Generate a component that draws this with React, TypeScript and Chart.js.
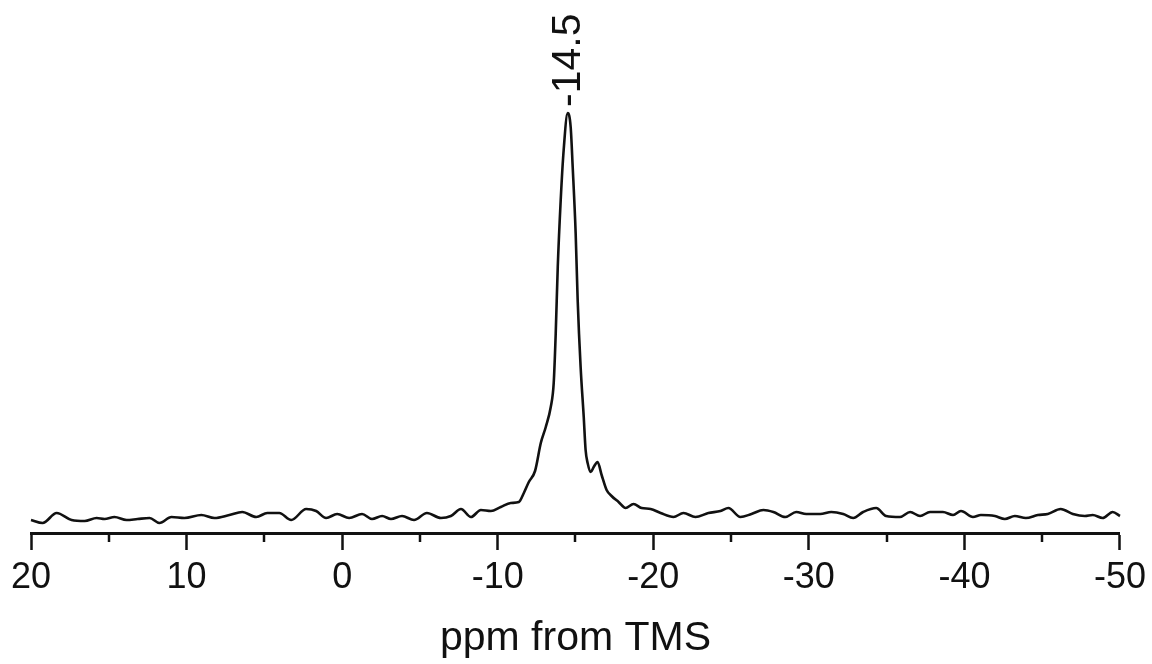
import { useEffect, useRef } from "react";
import { Chart, registerables } from "chart.js";

Chart.register(...registerables);

// Chemical shift (ppm) and signal intensity (arbitrary units)
const PPM = [
  20.0, 19.25, 18.35, 17.39, 16.55, 15.78, 15.27, 14.63, 13.86, 13.15, 12.38, 11.74, 10.97, 10.14, 9.05, 8.21,
  7.25, 6.42, 5.52, 4.81, 4.04, 3.27, 2.31, 1.67, 1.03, 0.32, -0.45, -1.28, -1.92, -2.57, -3.14, -3.85, -4.62,
  -5.45, -6.35, -6.99, -7.64, -8.28, -8.92, -9.56, -10.2, -10.84, -11.36, -11.68, -12.0, -12.4, -12.77, -13.09,
  -13.41, -13.6, -13.73, -13.86, -14.05, -14.24, -14.5, -14.69, -14.82, -15.01, -15.14, -15.33, -15.53, -15.65,
  -15.78, -15.98, -16.17, -16.42, -16.68, -17.0, -17.32, -17.77, -18.22, -18.73, -19.25, -19.83, -20.47, -21.3,
  -21.94, -22.71, -23.54, -24.32, -24.83, -25.6, -26.31, -27.08, -27.72, -28.49, -29.19, -29.83, -30.73, -31.44,
  -32.21, -32.85, -33.49, -34.33, -34.97, -35.86, -36.51, -37.15, -37.79, -38.62, -39.27, -39.78, -40.55, -41.06,
  -41.96, -42.6, -43.24, -43.95, -44.72, -45.36, -46.19, -46.97, -47.74, -48.25, -48.89, -49.53, -50.0,
];
const INTENSITY = [
  13, 10, 20, 13, 12, 15, 14, 16, 13, 14, 15, 10, 16, 15, 18, 15,
  18, 21, 16, 20, 20, 13, 24, 22, 15, 19, 15, 19, 14, 17, 14, 17, 13,
  20, 15, 17, 24, 16, 23, 22, 26, 30, 31, 40, 51, 62, 90, 106,
  126, 150, 200, 266, 333, 383, 420, 406, 366, 300, 233, 166, 116, 83,
  70, 61, 66, 71, 58, 43, 37, 31, 25, 29, 25, 24, 20, 16,
  20, 16, 20, 22, 25, 16, 19, 23, 21, 16, 21, 19, 19, 21,
  19, 15, 21, 25, 17, 16, 21, 17, 21, 21, 18, 22, 16, 18,
  17, 14, 17, 15, 18, 19, 24, 19, 17, 18, 15, 21, 17,
];

const MAJOR_TICKS = [20, 10, 0, -10, -20, -30, -40, -50];
const MINOR_TICKS = [15, 5, -5, -15, -25, -35, -45];
const PEAK_PPM = -14.5;
const PEAK_INTENSITY = 420;
const PEAK_LABEL = "-14.5";
const X_TITLE = "ppm from TMS";

const FONT = '"Liberation Sans", Arial, Helvetica, sans-serif';
const INK = "#111111";

export default function App() {
  const ref = useRef<HTMLCanvasElement>(null);

  useEffect(() => {
    if (!ref.current) return;

    const minorTicks = {
      id: "minorTicks",
      afterDraw(chart: any) {
        const xs = chart.scales.x;
        const ctx = chart.ctx;
        const y0 = chart.chartArea.bottom;
        ctx.save();
        ctx.strokeStyle = INK;
        ctx.lineWidth = 2.5;
        MINOR_TICKS.forEach((v) => {
          const px = Math.round(xs.getPixelForValue(v));
          ctx.beginPath();
          ctx.moveTo(px, y0);
          ctx.lineTo(px, y0 + 9);
          ctx.stroke();
        });
        ctx.restore();
      },
    };

    const peakLabel = {
      id: "peakLabel",
      afterDatasetsDraw(chart: any) {
        const xs = chart.scales.x;
        const ys = chart.scales.y;
        const px = xs.getPixelForValue(PEAK_PPM);
        const py = ys.getPixelForValue(PEAK_INTENSITY);
        const ctx = chart.ctx;
        ctx.save();
        ctx.translate(px + 12, py - 6);
        ctx.rotate(-Math.PI / 2);
        ctx.font = `41px ${FONT}`;
        ctx.fillStyle = INK;
        ctx.textAlign = "left";
        ctx.textBaseline = "alphabetic";
        ctx.fillText(PEAK_LABEL, 0, 0);
        ctx.restore();
      },
    };

    const chart = new Chart(ref.current, {
      type: "line",
      data: {
        datasets: [
          {
            data: PPM.map((x, i) => ({ x, y: INTENSITY[i] })),
            borderColor: INK,
            borderWidth: 2.6,
            pointRadius: 0,
            cubicInterpolationMode: "monotone",
            fill: false,
            clip: false as any,
          },
        ],
      },
      options: {
        responsive: false,
        animation: false,
        layout: { padding: { top: 93, left: 31, right: 29, bottom: 0 } },
        plugins: { legend: { display: false }, tooltip: { enabled: false } },
        scales: {
          x: {
            type: "linear",
            reverse: true,
            min: -50,
            max: 20,
            afterBuildTicks: (s: any) => {
              s.ticks = MAJOR_TICKS.map((v) => ({ value: v }));
            },
            afterFit: (s: any) => {
              s.height = 131;
            },
            ticks: {
              autoSkip: false,
              maxRotation: 0,
              padding: 6,
              color: INK,
              font: { family: FONT, size: 36 },
              callback: (v: any) => String(v),
            },
            grid: {
              drawOnChartArea: false,
              drawTicks: true,
              tickLength: 17,
              tickWidth: 2.5,
              tickColor: INK,
            },
            border: { display: true, color: INK, width: 3 },
            title: {
              display: true,
              text: X_TITLE,
              color: INK,
              font: { family: FONT, size: 41 },
              padding: { top: 0, bottom: 1 },
            },
          },
          y: { display: false, min: 0, max: 440 },
        },
      },
      plugins: [minorTicks, peakLabel],
    } as any);

    return () => chart.destroy();
  }, []);

  return (
    <div style={{ position: "absolute", left: 0, top: 0, width: 1152, height: 664, background: "#fff" }}>
      <canvas ref={ref} width={1152} height={664} style={{ display: "block" }} />
    </div>
  );
}
